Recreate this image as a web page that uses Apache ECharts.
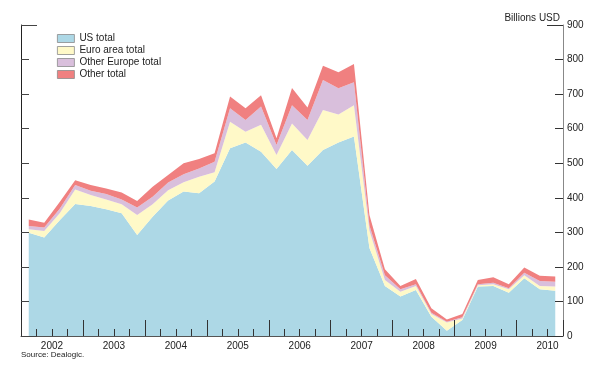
<!DOCTYPE html>
<html>
<head>
<meta charset="utf-8">
<script src="https://cdn.jsdelivr.net/npm/echarts@6/dist/echarts.min.js"></script>
<style>
html,body{margin:0;padding:0;background:#fff;}
#chart{width:600px;height:369px;}
</style>
</head>
<body>
<div id="chart"></div>
<script>
// Quarterly, 2002 Q1 .. 2010 Q3
const quarters = ['2002Q1','2002Q2','2002Q3','2002Q4','2003Q1','2003Q2','2003Q3','2003Q4','2004Q1','2004Q2','2004Q3','2004Q4','2005Q1','2005Q2','2005Q3','2005Q4','2006Q1','2006Q2','2006Q3','2006Q4','2007Q1','2007Q2','2007Q3','2007Q4','2008Q1','2008Q2','2008Q3','2008Q4','2009Q1','2009Q2','2009Q3','2009Q4','2010Q1','2010Q2','2010Q3'];
const usTotal =          [299,285,335,382,376,367,355,292,345,392,418,413,447,543,560,533,483,538,493,538,560,577,255,145,114,133,56,15,46,143,145,125,167,135,131];
const euroAreaTotal =    [10,19,20,42,32,28,26,58,36,30,27,48,27,77,31,78,41,77,74,116,81,91,50,17,14,12,8,24,5,4,5,10,9,10,12];
const otherEuropeTotal = [9,10,13,13,12,16,14,22,22,22,23,24,30,39,34,53,29,53,58,87,76,66,15,14,7,5,3,2,3,3,4,3,7,14,14];
const otherTotal =       [19,14,20,14,17,16,20,19,29,22,32,27,25,34,34,33,19,50,36,41,46,53,30,17,10,15,13,7,10,12,16,12,15,15,15];
const yearLabels = ['2002','2003','2004','2005','2006','2007','2008','2009','2010'];
const seriesNames = ['US total','Euro area total','Other Europe total','Other total'];
const seriesColors = ['#ADD8E6','#FFF9C8','#D9BFDC','#F08080'];
const seriesValues = [usTotal, euroAreaTotal, otherEuropeTotal, otherTotal];

const FONT = 'Liberation Sans, Arial, sans-serif';
const chart = echarts.init(document.getElementById('chart'), null, {renderer:'canvas'});

const series = seriesNames.map((name, k) => ({
  name: name,
  type: 'line',
  stack: 'total',
  xAxisIndex: 0,
  yAxisIndex: 0,
  showSymbol: false,
  symbol: 'none',
  lineStyle: {width: 0, color: seriesColors[k]},
  itemStyle: {color: seriesColors[k]},
  areaStyle: {color: seriesColors[k], opacity: 1},
  emphasis: {disabled: true},
  data: seriesValues[k]
}));

const nQ = quarters.length;
const baseX = {
  type: 'value', min: 0, max: nQ, position: 'bottom', z: 5,
  splitLine: {show: false}
};

const option = {
  animation: false,
  backgroundColor: '#fff',
  grid: {left: 21, right: 37, top: 25, bottom: 33, containLabel: false},
  title: [
    {text: 'Billions USD', right: 40, top: 13, padding: 0, textStyle: {fontFamily: FONT, fontSize: 10, fontWeight: 'normal', color: '#222'}},
    {text: 'Source: Dealogic.', left: 21, top: 351, padding: 0, textStyle: {fontFamily: FONT, fontSize: 8, fontWeight: 'normal', color: '#222'}}
  ],
  legend: {
    orient: 'vertical', left: 57, top: 33, padding: 0,
    itemWidth: 17, itemHeight: 8, itemGap: 1, itemTextGap: 4,
    icon: 'rect',
    selectedMode: false,
    textStyle: {fontFamily: FONT, fontSize: 10, color: '#222', lineHeight: 11},
    data: seriesNames.map((n, k) => ({name: n, itemStyle: {color: seriesColors[k], borderColor: '#8a8a8a', borderWidth: 0.8}}))
  },
  xAxis: [
    {
      type: 'category', data: quarters, boundaryGap: true, position: 'bottom',
      axisLine: {show: false, onZero: false}, axisTick: {show: false}, axisLabel: {show: false}, splitLine: {show: false}
    },
    Object.assign({}, baseX, {
      interval: 1,
      axisLine: {show: true, onZero: false, lineStyle: {color: '#555', width: 1}},
      axisTick: {show: true, inside: true, length: 7, lineStyle: {color: '#333', width: 1}},
      axisLabel: {show: false}
    }),
    Object.assign({}, baseX, {
      interval: 4,
      axisLine: {show: false, onZero: false},
      axisTick: {show: true, inside: true, length: 16, lineStyle: {color: '#333', width: 1}},
      axisLabel: {show: false}
    }),
    Object.assign({}, baseX, {
      interval: 2,
      axisLine: {show: false, onZero: false},
      axisTick: {show: false},
      axisLabel: {
        show: true, margin: 5, fontFamily: FONT, fontSize: 10, color: '#222',
        showMinLabel: true, showMaxLabel: true,
        formatter: function (v) {
          if (v % 4 === 2) { const idx = (v - 2) / 4; return yearLabels[idx] || ''; }
          return '';
        }
      }
    })
  ],
  yAxis: [
    {
      type: 'value', min: 0, max: 900, interval: 100, position: 'right', z: 5,
      splitLine: {show: false},
      axisLine: {show: true, onZero: false, lineStyle: {color: '#888', width: 1}},
      axisTick: {show: true, inside: true, length: 8, lineStyle: {color: '#333', width: 1}},
      axisLabel: {show: true, margin: 4, fontFamily: FONT, fontSize: 10, color: '#222'}
    },
    {
      type: 'value', min: 0, max: 900, interval: 100, position: 'left', z: 5,
      splitLine: {show: false},
      axisLine: {show: true, onZero: false, lineStyle: {color: '#222', width: 1}},
      axisTick: {show: true, inside: true, length: 8, lineStyle: {color: '#444', width: 1}},
      axisLabel: {show: false}
    },
    {
      type: 'value', min: 0, max: 900, interval: 900, position: 'left', z: 5,
      splitLine: {show: false},
      axisLine: {show: false, onZero: false},
      axisTick: {show: true, inside: true, length: 16, lineStyle: {color: '#444', width: 1}},
      axisLabel: {show: false}
    },
    {
      type: 'value', min: 0, max: 900, interval: 900, position: 'right', z: 5,
      splitLine: {show: false},
      axisLine: {show: false, onZero: false},
      axisTick: {show: true, inside: true, length: 16, lineStyle: {color: '#333', width: 1}},
      axisLabel: {show: false}
    }
  ],
  series: series
};
chart.setOption(option);
</script>
</body>
</html>
